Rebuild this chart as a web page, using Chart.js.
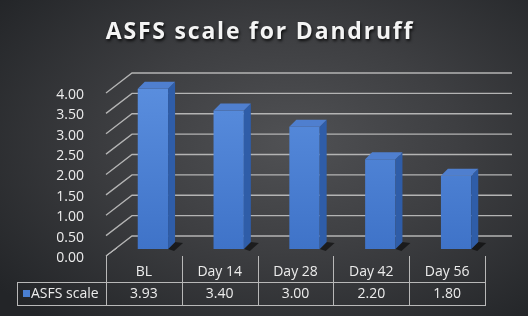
<!DOCTYPE html>
<html lang="en">
<head>
  <meta charset="UTF-8">
  <title>ASFS scale for Dandruff</title>
  <script src="https://cdn.jsdelivr.net/npm/chart.js"></script>
  <style>
    body { margin: 0; background: #222; }
    #wrap {
      width: 528px;
      height: 316px;
      background: radial-gradient(ellipse 70% 75% at 55% 45%, #505154 0%, #3e3f42 45%, #232528 100%);
    }
    canvas { display: block; }
  </style>
</head>
<body>
  <div id="wrap"><canvas id="asfsChart" width="528" height="316"></canvas></div>

  <script>
    const categories = ['BL', 'Day 14', 'Day 28', 'Day 42', 'Day 56'];
    const asfsValues = [3.93, 3.40, 3.00, 2.20, 1.80];
    const seriesName = 'ASFS scale';
    const titleText = 'ASFS scale for Dandruff';
    const yTicks = [0, 0.5, 1, 1.5, 2, 2.5, 3, 3.5, 4];

    const FONT = '"Open Sans", Lato, sans-serif';
    // 3d offsets: back wall and bar depth
    const WALL = { dx: 26, dy: 20 };
    const BAR = { dx: 9, dy: 7, depth: 7 };

    const threeD = {
      id: 'threeD',
      beforeDraw(chart) {
        const { ctx } = chart;
        // title
        ctx.save();
        ctx.font = 'bold 23px ' + FONT;
        ctx.letterSpacing = '1.8px';
        ctx.fillStyle = '#f4f4f4';
        ctx.textAlign = 'center';
        ctx.textBaseline = 'middle';
        ctx.shadowColor = 'rgba(0,0,0,0.8)';
        ctx.shadowBlur = 3;
        ctx.shadowOffsetX = 1;
        ctx.shadowOffsetY = 2;
        ctx.fillText(titleText, 260, 32);
        ctx.restore();
      },
      beforeDatasetsDraw(chart) {
        const { ctx, chartArea: a, scales: { y } } = chart;
        ctx.save();
        ctx.strokeStyle = '#b4b4b4';
        ctx.lineWidth = 1.3;
        yTicks.forEach(v => {
          const py = y.getPixelForValue(v);
          ctx.beginPath();
          ctx.moveTo(a.left, py);
          ctx.lineTo(a.left + WALL.dx, py - WALL.dy);
          ctx.lineTo(a.right + WALL.dx + 1, py - WALL.dy);
          ctx.stroke();
        });
        ctx.restore();
        ctx.save();
        ctx.translate(BAR.dx, -BAR.dy);
      },
      afterDatasetsDraw(chart) {
        const { ctx } = chart;
        const d = BAR.depth;
        chart.getDatasetMeta(0).data.forEach(bar => {
          const l = bar.x - bar.width / 2, r = bar.x + bar.width / 2;
          // floor shadow
          ctx.fillStyle = 'rgba(0,0,0,0.55)';
          ctx.beginPath();
          ctx.moveTo(r, bar.base);
          ctx.lineTo(r + d, bar.base - d);
          ctx.lineTo(r + d + 8, bar.base - d + 1);
          ctx.lineTo(r + 6, bar.base + 2);
          ctx.closePath();
          ctx.fill();
          // side face
          ctx.fillStyle = '#2f5da8';
          ctx.beginPath();
          ctx.moveTo(r, bar.y);
          ctx.lineTo(r + d, bar.y - d);
          ctx.lineTo(r + d, bar.base - d);
          ctx.lineTo(r, bar.base);
          ctx.closePath();
          ctx.fill();
          // top face
          ctx.fillStyle = '#4f7fcf';
          ctx.beginPath();
          ctx.moveTo(l, bar.y);
          ctx.lineTo(l + d, bar.y - d);
          ctx.lineTo(r + d, bar.y - d);
          ctx.lineTo(r, bar.y);
          ctx.closePath();
          ctx.fill();
        });
        ctx.restore();
      },
      afterDraw(chart) {
        const { ctx, chartArea: a, scales: { x } } = chart;
        const tLeft = 17, hTop = a.bottom, rowMid = 282, tBottom = 305;
        ctx.save();
        ctx.strokeStyle = '#b8b8b8';
        ctx.lineWidth = 1;
        // front floor diagonal at zero
        ctx.beginPath();
        ctx.moveTo(a.left, a.bottom);
        ctx.lineTo(a.left + 11, a.bottom - 8);
        ctx.stroke();
        // table borders
        const step = x.getPixelForValue(1) - x.getPixelForValue(0);
        const edges = [a.left];
        categories.forEach((c, i) => edges.push(x.getPixelForValue(i) + step / 2));
        ctx.beginPath();
        edges.forEach(ex => {
          ctx.moveTo(Math.round(ex) + 0.5, hTop);
          ctx.lineTo(Math.round(ex) + 0.5, tBottom);
        });
        ctx.moveTo(tLeft + 0.5, rowMid);
        ctx.lineTo(tLeft + 0.5, tBottom);
        ctx.moveTo(tLeft, rowMid + 0.5);
        ctx.lineTo(a.right + 1, rowMid + 0.5);
        ctx.moveTo(tLeft, tBottom + 0.5);
        ctx.lineTo(a.right + 1, tBottom + 0.5);
        ctx.stroke();

        ctx.fillStyle = '#ececec';
        ctx.font = '14px ' + FONT;
        ctx.textAlign = 'center';
        ctx.textBaseline = 'middle';
        categories.forEach((c, i) => {
          const cx = x.getPixelForValue(i);
          ctx.fillText(c, cx, 272);
          ctx.fillText(asfsValues[i].toFixed(2), cx, 294);
        });
        // legend key
        ctx.fillStyle = '#4a7fd2';
        ctx.fillRect(23, 290, 7, 7);
        ctx.fillStyle = '#ececec';
        ctx.textAlign = 'left';
        ctx.fillText(seriesName, 31, 294);
        ctx.restore();
      }
    };

    const ctx = document.getElementById('asfsChart').getContext('2d');
    const chart = new Chart(ctx, {
      type: 'bar',
      data: {
        labels: categories,
        datasets: [{
          label: seriesName,
          data: asfsValues,
          backgroundColor: c => {
            const area = c.chart.chartArea;
            if (!area) return '#4a7fd2';
            const g = c.chart.ctx.createLinearGradient(0, area.top, 0, area.bottom);
            g.addColorStop(0, '#5a8ede');
            g.addColorStop(1, '#3f73c8');
            return g;
          },
          borderWidth: 0,
          categoryPercentage: 1,
          barPercentage: 0.4
        }]
      },
      options: {
        responsive: false,
        animation: false,
        layout: { padding: { left: 0, right: 43, top: 93, bottom: 60 } },
        plugins: {
          legend: { display: false },
          tooltip: { enabled: false },
          title: { display: false }
        },
        scales: {
          x: { display: false },
          y: {
            min: 0,
            max: 4,
            afterFit: s => { s.width = 106; },
            grid: { display: false },
            border: { display: false },
            ticks: {
              stepSize: 0.5,
              padding: 14,
              labelOffset: 2,
              color: '#ececec',
              font: { family: FONT, size: 14 },
              callback: v => v.toFixed(2)
            }
          }
        }
      },
      plugins: [threeD]
    });
  </script>
</body>
</html>
